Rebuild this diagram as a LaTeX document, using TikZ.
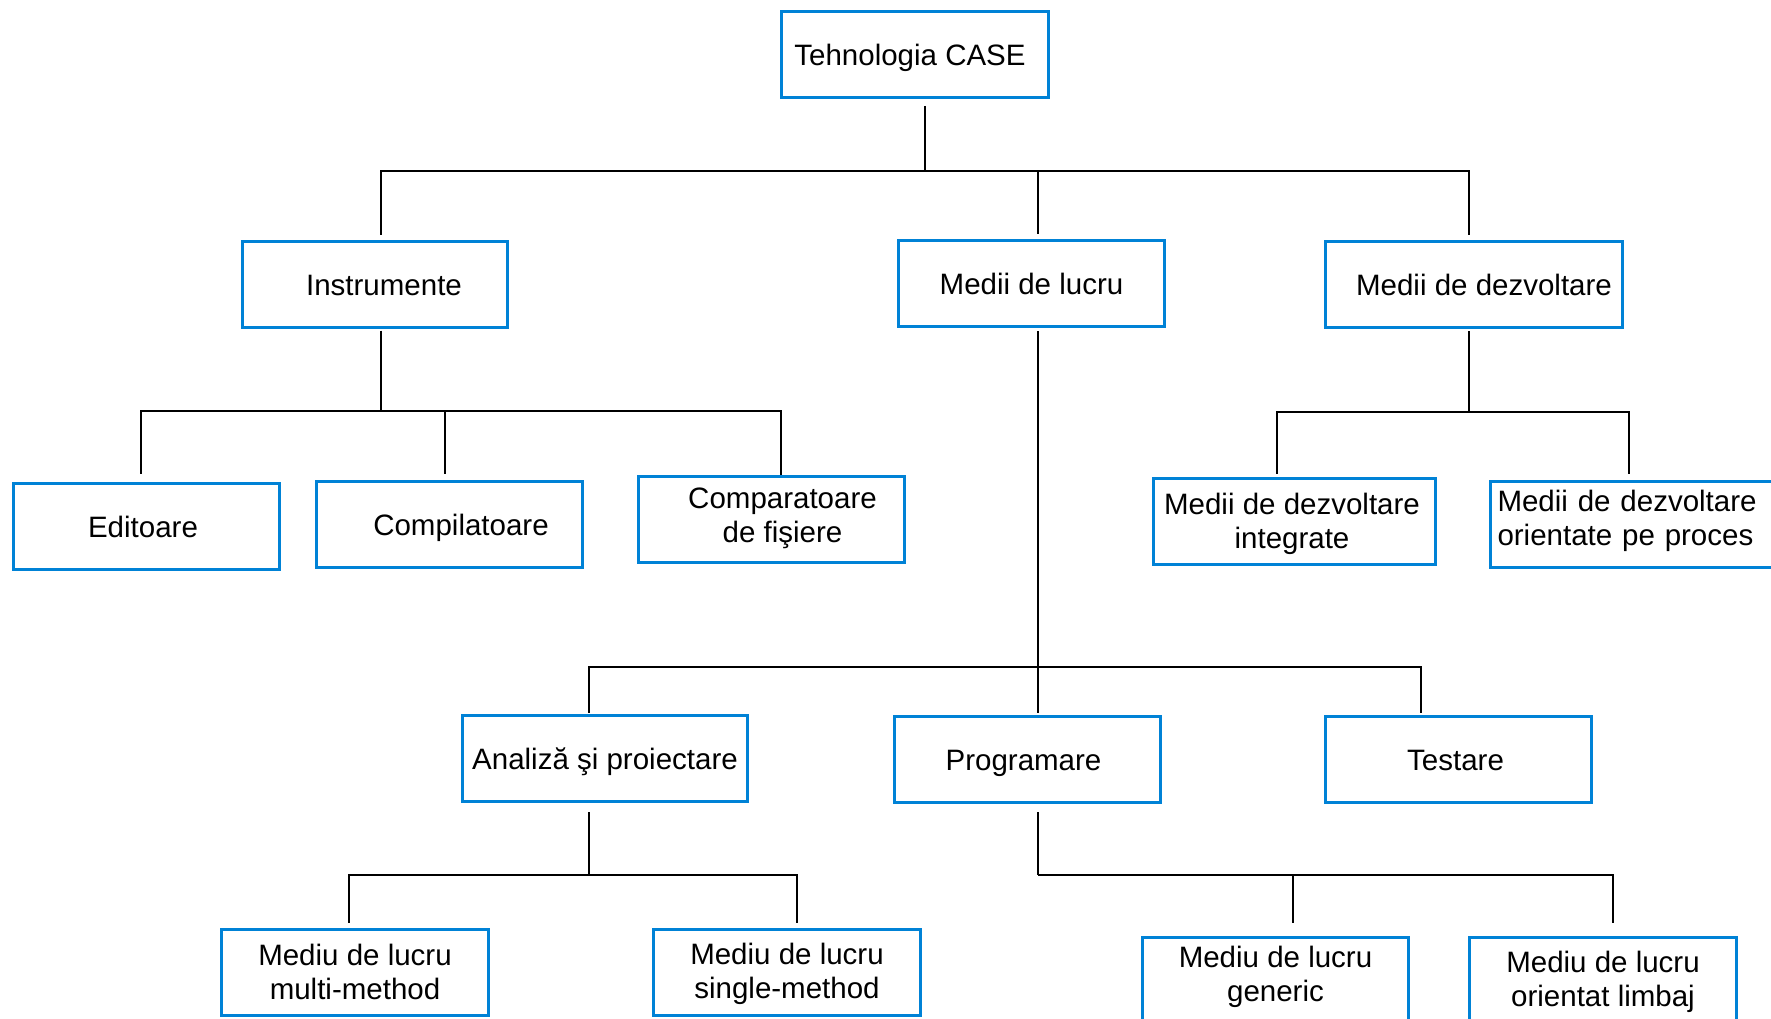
\documentclass[tikz,border=0pt]{standalone}
\usepackage{fontspec}
\setmainfont{Liberation Sans}
\usetikzlibrary{calc}
\definecolor{boxblue}{RGB}{0,130,214}
% two lines of text, with struts fixing the height above the first line
% (#1) and the depth below the second line (#2)
\newcommand\twoline[4]{\rule{0pt}{#1pt}#3\\#4\rule[-#2pt]{0pt}{#2pt}}
\begin{document}
\begin{tikzpicture}[x=1pt,y=-1pt,
  box/.style={draw=boxblue, line width=3pt, minimum width=266pt, minimum height=86pt,
    inner sep=0pt, align=center, text=black, font=\fontsize{29.5}{34}\selectfont},
  oneline/.style={box, text height=22pt, text depth=0pt},
  link/.style={draw=black, line width=2.6pt}]
\useasboundingbox (0,0) rectangle (1771,1019);
\fill[white] (0,0) rectangle (1771,1019);
\clip (0,0) rectangle (1771,1019);

% root
\node[oneline, minimum width=267pt] (case) at (915,54.5) {\hspace*{-10pt}Tehnologia CASE};

% first level
\node[oneline, minimum width=265pt] (instr) at (375,284) {\hspace*{18pt}Instrumente};
\node[oneline] (mlucru) at (1031.5,283.5) {Medii de lucru};
\node[oneline, minimum width=297pt] (mdezv) at (1474,284) {\hspace*{20pt}Medii de dezvoltare};

% tools
\node[oneline] (edit) at (146.5,526.5) {\hspace*{-7pt}Editoare};
\node[oneline] (compil) at (449.5,524.5) {\hspace*{23pt}Compilatoare};
\node[box] (compar) at (771.5,519)
  {\twoline{24}{11}{\hspace*{22pt}Comparatoare}{\hspace*{22pt}de fişiere}};

% development environments
\node[box, minimum width=282pt] (integr) at (1294.5,521.5)
  {\twoline{26}{7}{\hspace*{-5pt}Medii de dezvoltare}{\hspace*{-5pt}integrate}};
\node[box, anchor=west, text width=280pt, align=left, inner xsep=7pt] (proces) at (1489,524.5)
  {\twoline{24}{17}{Medii de dezvoltare}{orientate pe proces}};

% work environments
\node[oneline, minimum width=285pt] (analiza) at (605,758.5) {Analiză şi proiectare};
\node[oneline] (progr) at (1027,759) {\hspace*{-7pt}Programare};
\node[oneline] (testare) at (1458.5,759) {\hspace*{-6pt}Testare};

% bottom level
\node[box, minimum width=267pt] (multi) at (355,972)
  {\twoline{27}{7}{Mediu de lucru}{multi-method}};
\node[box, minimum width=267pt] (single) at (787,972)
  {\twoline{25}{7}{Mediu de lucru}{single-method}};
\node[box, minimum height=83pt] (generic) at (1275.5,979)
  {\twoline{24}{14}{Mediu de lucru}{generic}};
\node[box, minimum width=267pt, minimum height=83pt] (limbaj) at (1603,979)
  {\twoline{27}{7}{Mediu de lucru}{orientat limbaj}};

% connectors: root
\coordinate (b0) at ($(case.south)+(10,72)$);
\draw[link] ($(case.south)+(10,7)$) -- (b0);
\draw[link] (b0) -| ($(instr.north)+(6,-5)$);
\draw[link] (b0) -| ($(mlucru.north)+(6.5,-5)$);
\draw[link] (b0) -| ($(mdezv.north)+(-5,-5)$);

% connectors: tools
\coordinate (b1) at ($(instr.south)+(6,82.5)$);
\draw[link] ($(instr.south)+(6,2)$) -- (b1);
\draw[link] (b1) -| ($(edit.north)+(-5.5,-8)$);
\draw[link] (b1) -| ($(compil.north)+(-4.5,-6)$);
\draw[link] (b1) -| ($(compar.north)+(9.5,0)$);

% connectors: development environments
\coordinate (b2) at ($(mdezv.south)+(-5,83.5)$);
\draw[link] ($(mdezv.south)+(-5,2.5)$) -- (b2);
\draw[link] (b2) -| ($(integr.north)+(-17.5,-3)$);
\draw[link] (b2) -| ($(proces.north)+(-8.5,-6)$);

% connectors: work environments
\coordinate (b3) at ($(mlucru.south)+(6.5,339)$);
\draw[link] ($(mlucru.south)+(6.5,3)$) -- (b3);
\draw[link] (b3) -| ($(analiza.north)+(-16,-1)$);
\draw[link] (b3) -| ($(progr.north)+(11,-1.5)$);
\draw[link] (b3) -| ($(testare.north)+(-37.5,-1.5)$);

% connectors: analysis and design
\coordinate (b4) at ($(analiza.south)+(-16,72)$);
\draw[link] ($(analiza.south)+(-16,9)$) -- (b4);
\draw[link] (b4) -| ($(multi.north)+(-6,-4.5)$);
\draw[link] (b4) -| ($(single.north)+(10,-4.5)$);

% connectors: programming
\coordinate (b5) at ($(progr.south)+(11,71.5)$);
\draw[link] ($(progr.south)+(11,8.5)$) -- (b5);
\draw[link] (b5) -| ($(generic.north)+(17.5,-13)$);
\draw[link] (b5) -| ($(limbaj.north)+(10,-13)$);
\end{tikzpicture}
\end{document}
